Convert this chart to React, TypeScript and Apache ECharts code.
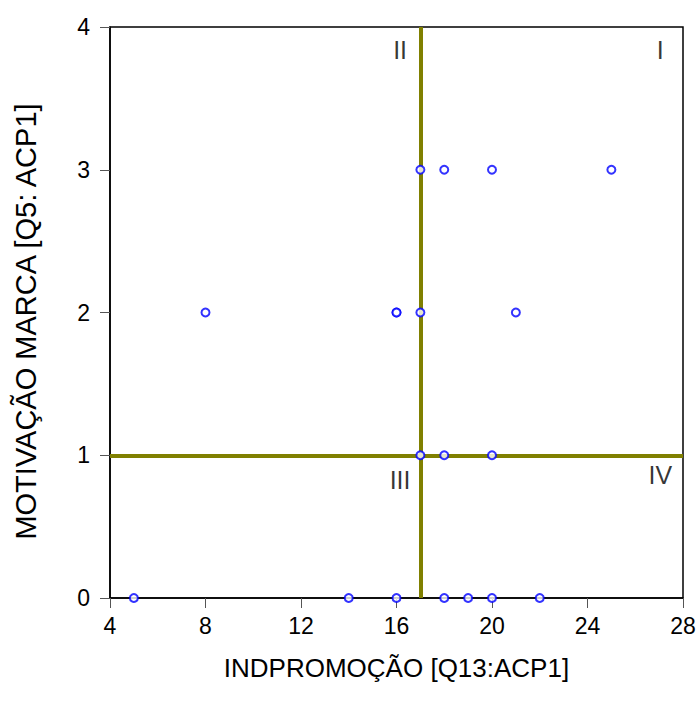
import React, { useEffect, useRef } from "react";
import * as echarts from "echarts";

const xValues = [17, 18, 20, 25, 8, 16, 16, 17, 21, 17, 18, 20, 5, 14, 16, 18, 19, 20, 22];
const yValues = [3, 3, 3, 3, 2, 2, 2, 2, 2, 1, 1, 1, 0, 0, 0, 0, 0, 0, 0];
const quadrantNames = ["I", "II", "III", "IV"];
const quadrantX = [27.05, 16.15, 16.15, 27.05];
const quadrantY = [3.84, 3.84, 0.83, 0.86];
const splitX = 17;
const splitY = 1;
const xTicks = [4, 8, 12, 16, 20, 24, 28];
const yTicks = [0, 1, 2, 3, 4];

export default function App() {
  const ref = useRef<HTMLDivElement>(null);
  useEffect(() => {
    if (!ref.current) return;
    const chart = echarts.init(ref.current, null, { renderer: "svg" });
    const font = "Liberation Sans, Arial, sans-serif";
    chart.setOption({
      animation: false,
      backgroundColor: "#fff",
      grid: { left: 110, right: 17, top: 27, bottom: 111, show: true, borderColor: "#000", borderWidth: 1.5, backgroundColor: "transparent" },
      xAxis: {
        type: "value",
        min: xTicks[0],
        max: xTicks[xTicks.length - 1],
        interval: 4,
        name: "INDPROMOÇÃO [Q13:ACP1]",
        nameLocation: "middle",
        nameGap: 70,
        nameTextStyle: { fontFamily: font, fontSize: 26, color: "#000", verticalAlign: "middle" },
        axisLine: { show: true, lineStyle: { color: "#000", width: 1.5 } },
        axisTick: { show: true, length: 10, lineStyle: { color: "#555" } },
        axisLabel: { fontFamily: font, fontSize: 23, color: "#000", margin: 16 },
        splitLine: { show: false },
      },
      yAxis: {
        type: "value",
        min: yTicks[0],
        max: yTicks[yTicks.length - 1],
        interval: 1,
        name: "MOTIVAÇÃO MARCA [Q5: ACP1]",
        nameLocation: "middle",
        nameGap: 84,
        nameTextStyle: { fontFamily: font, fontSize: 29, color: "#000", verticalAlign: "middle", padding: [0, 18, 0, 0] },
        axisLine: { show: true, lineStyle: { color: "#000", width: 1.5 } },
        axisTick: { show: true, length: 10, lineStyle: { color: "#555" } },
        axisLabel: { fontFamily: font, fontSize: 23, color: "#000", margin: 20 },
        splitLine: { show: false },
      },
      series: [
        {
          type: "scatter",
          data: xValues.map((x, i) => [x, yValues[i]]),
          symbol: "emptyCircle",
          symbolSize: 8,
          itemStyle: { color: "#0000ff", borderColor: "#0000ff", borderWidth: 1.6 },
          z: 5,
          markLine: {
            silent: true,
            symbol: "none",
            label: { show: false },
            lineStyle: { color: "#808000", width: 4, type: "solid" },
            data: [{ xAxis: splitX }, { yAxis: splitY }],
            z: 3,
          },
        },
        {
          type: "scatter",
          data: quadrantNames.map((n, i) => ({ value: [quadrantX[i], quadrantY[i]], name: n })),
          symbolSize: 0,
          label: {
            show: true,
            position: "inside",
            formatter: (p: any) => p.name,
            fontFamily: font,
            fontSize: 25,
            color: "#000",
          },
          silent: true,
          z: 6,
        },
      ],
    });
    return () => chart.dispose();
  }, []);
  return <div ref={ref} style={{ width: 700, height: 709, position: "absolute", left: 0, top: 0 }} />;
}
